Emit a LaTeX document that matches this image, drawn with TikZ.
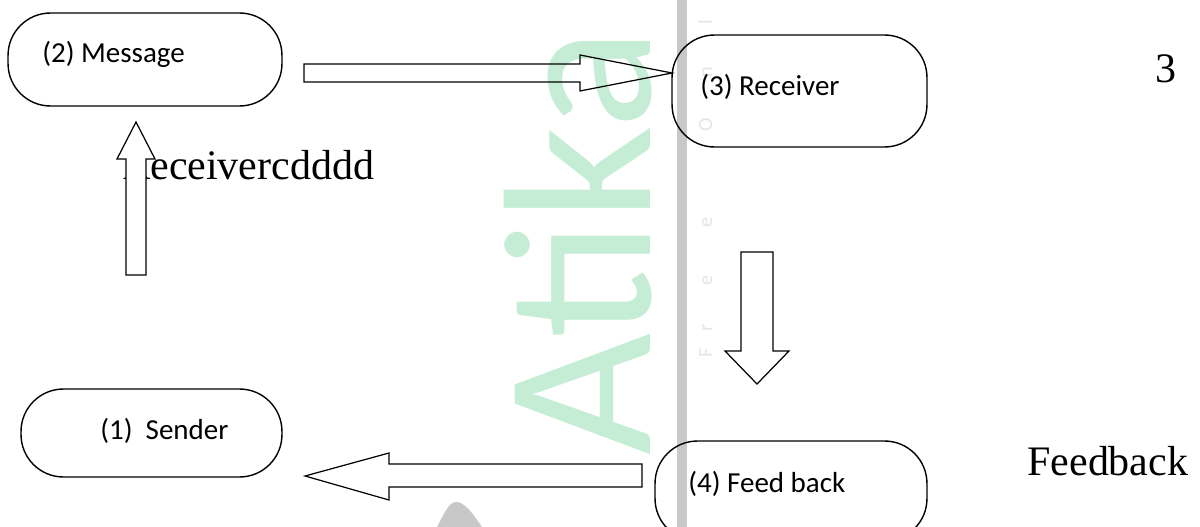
\documentclass[tikz,border=0pt]{standalone}
\usepackage{fontspec}
\setmainfont{Liberation Serif}
\setsansfont{Carlito}

\begin{document}
\begin{tikzpicture}[x=0.02cm,y=-0.02cm]
  % Pixel grid of the page: 1200 wide, 527 high, y running down.
  \definecolor{mint}{HTML}{C5EDD5}
  \definecolor{rail}{HTML}{C8C8C8}
  \definecolor{faint}{HTML}{E2E5EB}
  \definecolor{ink}{HTML}{000000}
  \clip (0,0) rectangle (1200,527);
  \fill[white] (0,0) rectangle (1200,527);

  \tikzset{stage/.style={draw=ink,line width=0.8pt,rounded corners=0.85cm,inner sep=0pt,outer sep=0pt},
            tag/.style={text=ink,font=\sffamily\fontsize{16.5}{20}\selectfont,inner sep=0pt,anchor=base west},
            note/.style={text=ink,font=\fontsize{23.9}{28}\selectfont,inner sep=0pt,anchor=base west},
            blockarrow/.style={draw=ink,line width=0.7pt,line join=miter}}

  % watermark behind the diagram
  \node[rotate=90,anchor=base,inner sep=0pt,text=mint,font=\sffamily\fontsize{120}{120}\selectfont] (mark) at (650,242) {Atika};
  \fill[rail] (677,0) rectangle (687,527);
  \fill[rail] (437,527) .. controls (445,512) and (449,502) .. (456,502) .. controls (464,502) and (472,512) .. (482,527) -- cycle;
  \foreach \ch/\yy [count=\k] in {F/353,r/328,e/280,e/222,O/125,n/72,l/22}
    \node[rotate=90,anchor=base,inner sep=0pt,text=faint,font=\sffamily\fontsize{11.5}{12}\selectfont] (free\k) at (712,\yy) {\ch};

  % the four stages
  \node[stage,minimum width=5.48cm,minimum height=1.86cm] (msg) at (145,59.5) {};
  \node[stage,minimum width=5.10cm,minimum height=2.24cm] (recv) at (799.5,91) {};
  \node[stage,minimum width=5.44cm,minimum height=2.00cm] (fdbk) at (791,491) {};
  \node[stage,minimum width=5.22cm,minimum height=1.76cm] (sndr) at (151.5,433) {};

  \node[tag] (msgtext) at (42,63) {(2) Message};
  \node[tag] (recvtext) at (700,96) {(3) Receiver};
  \node[tag] (fdbktext) at (688,492) {(4) Feed back};
  \node[tag] (sndrtext) at (100,439) {(1)\ \ Sender};

  % loose serif notes
  \node[note] (stray) at (122,179) {Receivercdddd};
  \node[note] (three) at (1155,83) {3};
  \node[note] (fbnote) at (1027,475) {Feedback};

  % block arrows
  \draw[blockarrow,fill=white] (126,275) -- (126,159) -- (117,159) -- (136,122) -- (155,159) -- (146,159) -- (146,275) -- cycle;
  \draw[blockarrow] (304,64) -- (580,64) -- (580,55) -- (672,73) -- (580,91) -- (580,82) -- (304,82) -- cycle;
  \draw[blockarrow] (741,252) -- (773,252) -- (773,351) -- (789,351) -- (757,384) -- (725,351) -- (741,351) -- cycle;
  \draw[blockarrow] (642,464) -- (389,464) -- (389,453) -- (305,476) -- (389,500) -- (389,487) -- (642,487) -- cycle;
\end{tikzpicture}
\end{document}
